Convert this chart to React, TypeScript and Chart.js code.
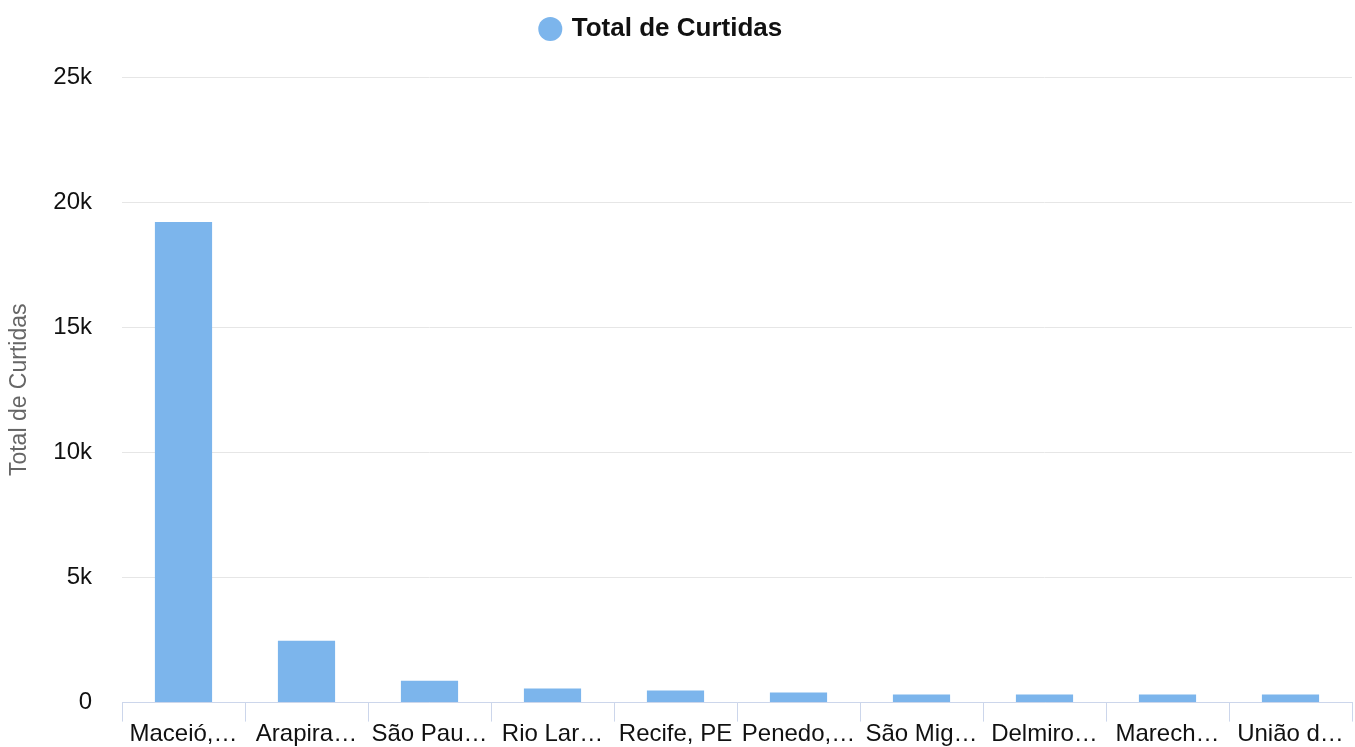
import React, { useEffect, useRef } from 'react';
import { Chart, registerables } from 'chart.js';

Chart.register(...registerables);

const categories = [
  'Maceió, AL',
  'Arapiraca, AL',
  'São Paulo, SP',
  'Rio Largo, AL',
  'Recife, PE',
  'Penedo, AL',
  'São Miguel dos Campos, AL',
  'Delmiro Gouveia, AL',
  'Marechal Deodoro, AL',
  'União dos Palmares, AL',
];
const xTickLabels = [
  'Maceió,…',
  'Arapira…',
  'São Pau…',
  'Rio Lar…',
  'Recife, PE',
  'Penedo,…',
  'São Mig…',
  'Delmiro…',
  'Marech…',
  'União d…',
];
const totalCurtidas = [19210, 2470, 870, 560, 480, 400, 320, 320, 320, 320];
const yTickValues = [0, 5000, 10000, 15000, 20000, 25000];
const yTickLabels = ['0', '5k', '10k', '15k', '20k', '25k'];
const seriesName = 'Total de Curtidas';

const FONT = '"Liberation Sans", Arial, Helvetica, sans-serif';

const legendSpacing = {
  id: 'legendSpacing',
  beforeInit(chart: any) {
    const legend = chart.legend;
    if (!legend) return;
    const origFit = legend.fit;
    legend.fit = function () {
      origFit.call(this);
      this.height += 25;
    };
  },
  afterLayout(chart: any) {
    const legend = chart.legend;
    if (legend) legend.right -= 34;
  },
};

export default function App() {
  const ref = useRef<HTMLCanvasElement | null>(null);

  useEffect(() => {
    if (!ref.current) return;
    const chart = new Chart(ref.current, {
      type: 'bar',
      data: {
        labels: categories,
        datasets: [
          {
            label: seriesName,
            data: totalCurtidas,
            backgroundColor: '#7cb5ec',
            borderWidth: 0,
            barPercentage: 1,
            categoryPercentage: 0.465,
          },
        ],
      },
      plugins: [legendSpacing],
      options: {
        responsive: false,
        animation: false,
        maintainAspectRatio: false,
        layout: { padding: { left: 6, right: 3, top: 6, bottom: -1 } },
        plugins: {
          tooltip: { enabled: false },
          legend: {
            display: true,
            position: 'top',
            labels: {
              usePointStyle: true,
              pointStyle: 'circle',
              boxWidth: 17,
              boxHeight: 17,
              color: '#111',
              font: { family: FONT, size: 26, weight: 'bold' },
              padding: 10,
            },
          },
        },
        scales: {
          x: {
            grid: {
              offset: true,
              drawOnChartArea: false,
              drawTicks: true,
              tickLength: 19,
              color: '#ccd6eb',
              tickColor: '#ccd6eb',
            },
            border: { display: true, color: '#ccd6eb', width: 1 },
            ticks: {
              autoSkip: false,
              maxRotation: 0,
              minRotation: 0,
              padding: 1,
              color: '#111',
              font: { family: FONT, size: 24, lineHeight: 1 },
              callback: (_v: any, i: number) => xTickLabels[i],
            },
          },
          y: {
            min: 0,
            max: 25000,
            afterBuildTicks: (axis: any) => {
              axis.ticks = yTickValues.map((v) => ({ value: v }));
            },
            afterFit: (axis: any) => {
              axis.width = 116;
            },
            grid: { color: '#e6e6e6', drawTicks: false, lineWidth: 1 },
            border: { display: false },
            ticks: {
              padding: 30,
              color: '#111',
              font: { family: FONT, size: 24 },
              callback: (v: any) => {
                const i = yTickValues.indexOf(Number(v));
                return i >= 0 ? yTickLabels[i] : '';
              },
            },
            title: {
              display: true,
              text: seriesName,
              color: '#666',
              font: { family: FONT, size: 23 },
              padding: { top: 0, bottom: 0 },
            },
          },
        },
      },
    });
    return () => chart.destroy();
  }, []);

  return (
    <div style={{ position: 'absolute', left: 0, top: 0, width: 1355, height: 747 }}>
      <canvas ref={ref} width={1355} height={747} style={{ display: 'block' }} />
    </div>
  );
}
